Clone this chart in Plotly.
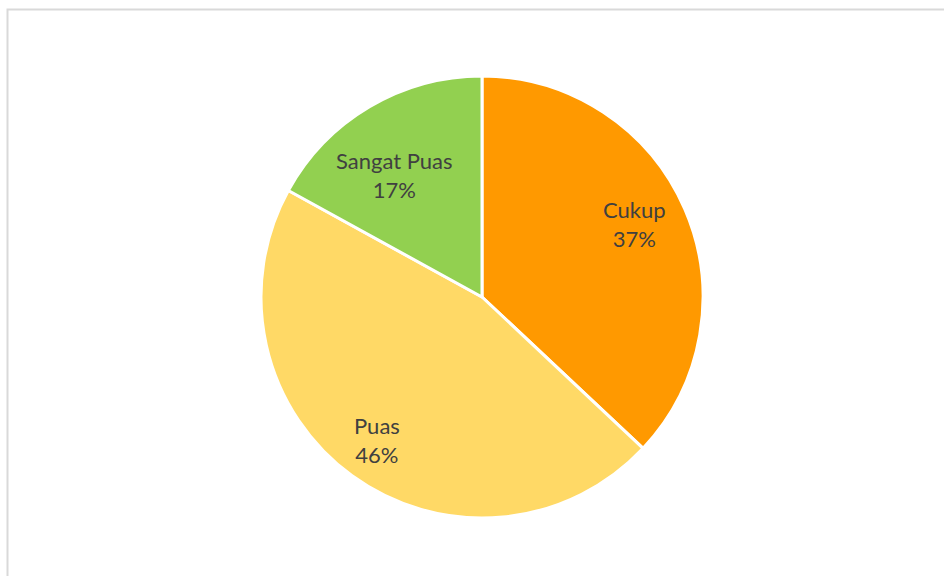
import plotly.graph_objects as go

categories = ["Cukup", "Puas", "Sangat Puas"]
values = [37, 46, 17]
colors = ["#FF9900", "#FFD966", "#92D050"]

W, H = 944, 576
cx, cy, R = 482, 297, 221

fig = go.Figure(go.Pie(
    labels=categories,
    values=values,
    sort=False,
    direction="clockwise",
    rotation=0,
    marker=dict(colors=colors, line=dict(color="white", width=3)),
    textinfo="none",
    hoverinfo="label+percent",
    showlegend=False,
    domain=dict(x=[(cx - R) / W, (cx + R) / W], y=[1 - (cy + R) / H, 1 - (cy - R) / H]),
))

# label centers (pixels)
label_pos = {"Cukup": (634, 224), "Puas": (377, 440), "Sangat Puas": (394, 175)}
total = sum(values)
for cat, v in zip(categories, values):
    px, py = label_pos[cat]
    fig.add_annotation(
        x=px / W, y=1 - py / H, xref="paper", yref="paper",
        text=f"{cat}<br>{round(100 * v / total)}%",
        showarrow=False, xanchor="center", yanchor="middle",
        font=dict(family="Lato, Open Sans, sans-serif", size=22, color="#404040"),
    )

fig.add_shape(type="rect", xref="paper", yref="paper",
              x0=7.5 / W, x1=1.05, y0=-0.05, y1=1 - 9.5 / H,
              line=dict(color="#D9D9D9", width=2), fillcolor="rgba(0,0,0,0)")

fig.update_layout(
    width=W, height=H,
    margin=dict(l=0, r=0, t=0, b=0),
    paper_bgcolor="white", plot_bgcolor="white",
)

fig.write_html("out.html")
